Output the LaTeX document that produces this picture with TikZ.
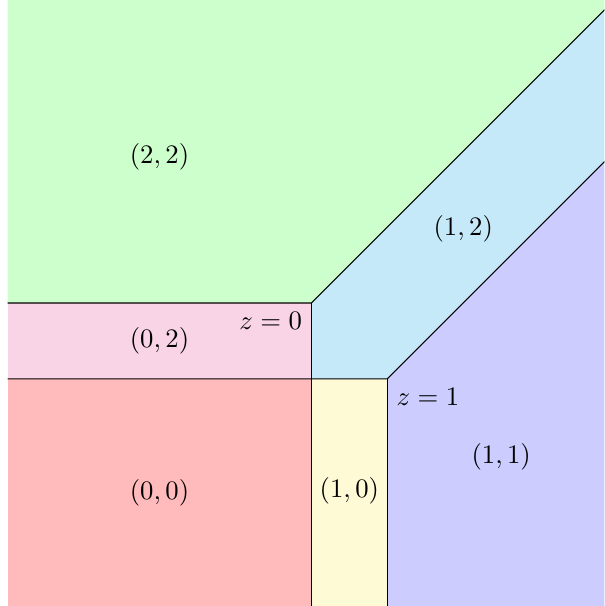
\documentclass[tikz,border=0pt]{standalone}
\usepackage{amsmath}
\usepackage{xcolor}
\usepackage{tikz}
\usetikzlibrary{calc}
\definecolor{regiongreen}{HTML}{CCFFCC}
\definecolor{regionpink}{HTML}{F9D4E6}
\definecolor{regionred}{HTML}{FFBBBB}
\definecolor{regionyellow}{HTML}{FFFAD6}
\definecolor{regionblue}{HTML}{C6E9F9}
\definecolor{regionpurple}{HTML}{CCCCFF}

\begin{document}
\begin{tikzpicture}[
    wall/.style={draw=black, line width=0.4pt}
]
\useasboundingbox (-4.1,-3.99) rectangle (3.86,3.99);
\coordinate (z0) at (0,0);
\coordinate (z1) at (1,-1);

\begin{scope}
\clip (-4,-4) rectangle (3.86,4);
% regions
\fill[regiongreen] (-4,0) -- (z0) -- (5,5) -- (-4,5) -- cycle;
\fill[regionpink] (-4,-1) rectangle (z0);
\fill[regionred] (-4,-4) rectangle (0,-1);
\fill[regionyellow] (0,-4) rectangle (z1);
\fill[regionblue] (z0) -- (5,5) -- (5,3) -- (z1) -- (0,-1) -- cycle;
\fill[regionpurple] (z1) -- (5,3) -- (5,-4) -- (1,-4) -- cycle;
% boundaries
\draw[wall] (-4,0) -- (z0) -- (5,5);
\draw[wall] (-4,-1) -- (z1) -- (5,3);
\draw[wall] (z0) -- (0,-4);
\draw[wall] (z1) -- (1,-4);
\end{scope}

\node (l22) at (-2,1.93) {$(2,2)$};
\node (l12) at (2,0.97) {$(1,2)$};
\node (l02) at (-2,-0.5) {$(0,2)$};
\node (l00) at (-2,-2.5) {$(0,0)$};
\node (l10) at (0.5,-2.47) {$(1,0)$};
\node (l11) at (2.5,-2.02) {$(1,1)$};
\node[below left] (lz0) at (z0) {$z=0$};
\node[below right] (lz1) at (z1) {$z=1$};
\end{tikzpicture}
\end{document}
